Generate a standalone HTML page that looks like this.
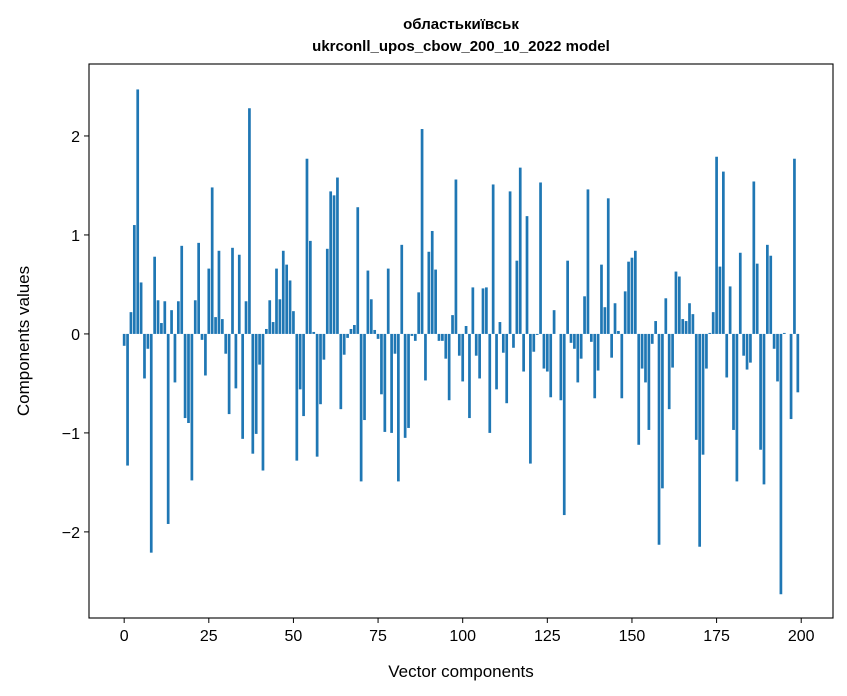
<!DOCTYPE html>
<html><head><meta charset="utf-8">
<style>
body{margin:0;background:#fff;}
svg{display:block;font-family:"Liberation Sans","DejaVu Sans",sans-serif;}
</style></head>
<body>
<svg id="chart" width="847" height="696">
<text x="461" y="29" text-anchor="middle" font-size="15" font-weight="bold">областькиївськ</text>
<text x="461" y="51" text-anchor="middle" font-size="15" font-weight="bold">ukrconll_upos_cbow_200_10_2022 model</text>
<g id="bars"></g>
<g id="xticks"></g>
<g id="yticks"></g>
<rect x="89" y="64" width="744" height="554" fill="none" stroke="#000" stroke-width="1.1"/>
<text x="461" y="677" text-anchor="middle" font-size="17">Vector components</text>
<text x="0" y="0" transform="translate(29,341) rotate(-90)" text-anchor="middle" font-size="17">Components values</text>
</svg>
<script>
const values = [
-0.12,-1.33,0.22,1.10,2.47,0.52,-0.45,-0.15,-2.21,0.78,
0.34,0.11,0.33,-1.92,0.24,-0.49,0.33,0.89,-0.85,-0.90,
-1.48,0.34,0.92,-0.06,-0.42,0.66,1.48,0.17,0.84,0.15,
-0.20,-0.81,0.87,-0.55,0.80,-1.06,0.33,2.28,-1.21,-1.01,
-0.31,-1.38,0.05,0.34,0.12,0.66,0.35,0.84,0.70,0.54,
0.23,-1.28,-0.56,-0.83,1.77,0.94,0.02,-1.24,-0.71,-0.26,
0.86,1.44,1.40,1.58,-0.76,-0.21,-0.04,0.05,0.09,1.28,
-1.49,-0.87,0.64,0.35,0.04,-0.05,-0.61,-0.99,0.66,-1.00,
-0.20,-1.49,0.90,-1.05,-0.95,-0.02,-0.07,0.42,2.07,-0.47,
0.83,1.04,0.65,-0.07,-0.07,-0.25,-0.67,0.19,1.56,-0.22,
-0.48,0.08,-0.85,0.47,-0.22,-0.45,0.46,0.47,-1.00,1.51,
-0.56,0.12,-0.19,-0.70,1.44,-0.14,0.74,1.68,-0.38,1.19,
-1.31,-0.18,-0.01,1.53,-0.35,-0.38,-0.64,0.24,0.00,-0.67,
-1.83,0.74,-0.09,-0.15,-0.49,-0.25,0.38,1.46,-0.08,-0.65,
-0.37,0.70,0.27,1.37,-0.24,0.31,0.03,-0.65,0.43,0.73,
0.77,0.84,-1.12,-0.35,-0.49,-0.97,-0.10,0.13,-2.13,-1.56,
0.36,-0.76,-0.34,0.63,0.58,0.15,0.13,0.31,0.20,-1.07,
-2.15,-1.22,-0.35,0.01,0.22,1.79,0.68,1.64,-0.44,0.48,
-0.97,-1.49,0.82,-0.22,-0.36,-0.29,1.54,0.71,-1.17,-1.52,
0.90,0.79,-0.15,-0.48,-2.63,0.01,0.00,-0.86,1.77,-0.59
];
const xTickValues = [0,25,50,75,100,125,150,175,200];
const yTickValues = [-2,-1,0,1,2];
const yTickLabels = ["\u22122","\u22121","0","1","2"];

const X0=89, X1=833, Y0=64, Y1=618;
const xMin=-10.39, xMax=209.39, yMin=-2.87, yMax=2.727;
function xs(v){return X0+(v-xMin)/(xMax-xMin)*(X1-X0);}
function ys(v){return Y1-(v-yMin)/(yMax-yMin)*(Y1-Y0);}
const NS="http://www.w3.org/2000/svg";
const gb=document.getElementById('bars');
values.forEach((v,i)=>{
  const r=document.createElementNS(NS,'rect');
  const xa=xs(i-0.4), xb=xs(i+0.4);
  const ya=ys(Math.max(v,0)), yb=ys(Math.min(v,0));
  r.setAttribute('x',xa);r.setAttribute('width',xb-xa);
  r.setAttribute('y',ya);r.setAttribute('height',Math.max(yb-ya,0));
  r.setAttribute('fill','#1f77b4');
  
  
  gb.appendChild(r);
});
const gx=document.getElementById('xticks');
xTickValues.forEach(t=>{
  const x=xs(t);
  const l=document.createElementNS(NS,'line');
  l.setAttribute('x1',x);l.setAttribute('x2',x);l.setAttribute('y1',Y1);l.setAttribute('y2',Y1+5);
  l.setAttribute('stroke','#000');
  
  
  gx.appendChild(l);
  const tx=document.createElementNS(NS,'text');
  tx.setAttribute('x',x);tx.setAttribute('y',Y1+23);tx.setAttribute('text-anchor','middle');tx.setAttribute('font-size','16');
  tx.textContent=t;
  
  
  gx.appendChild(tx);
});
const gy=document.getElementById('yticks');
yTickValues.forEach((t,i)=>{
  const y=ys(t);
  const l=document.createElementNS(NS,'line');
  l.setAttribute('x1',X0-5);l.setAttribute('x2',X0);l.setAttribute('y1',y);l.setAttribute('y2',y);
  l.setAttribute('stroke','#000');
  
  
  gy.appendChild(l);
  const tx=document.createElementNS(NS,'text');
  tx.setAttribute('x',X0-9);tx.setAttribute('y',y+6);tx.setAttribute('text-anchor','end');tx.setAttribute('font-size','16');
  tx.textContent=yTickLabels[i];
  
  
  gy.appendChild(tx);
});
</script>
</body></html>
